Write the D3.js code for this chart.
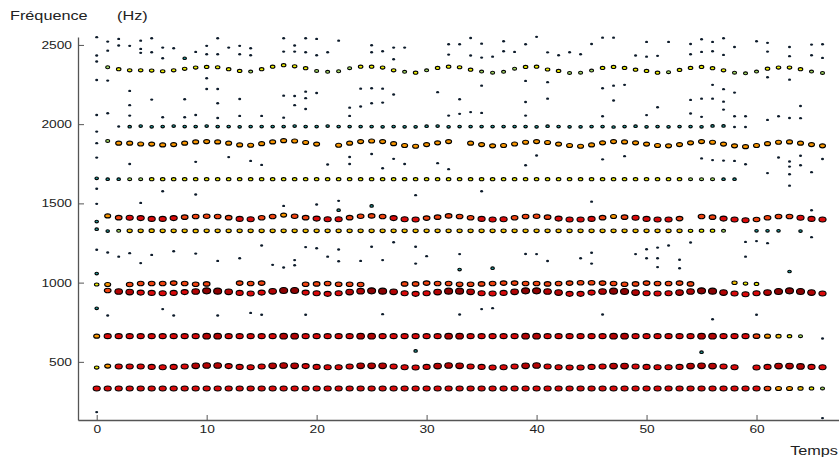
<!DOCTYPE html>
<html><head><meta charset="utf-8">
<script src="https://cdn.jsdelivr.net/npm/d3@7"></script>
<style>html,body{margin:0;padding:0;background:#fff;} svg{display:block;}</style>
</head><body>
<svg id="chart" width="839" height="457"></svg>
<script>
// ---- data (frequency in Hz per time frame t = 0..66, null = no partial) ----
const xTicks = [0, 10, 20, 30, 40, 50, 60];
const yTicks = [500, 1000, 1500, 2000, 2500];
const yLabel = "Fréquence";
const yUnit = "(Hz)";
const xLabel = "Temps";

const trackA = [null,2359,2347,2340,2340,2338,2334,2340,2349,2357,2361,2359,2347,2336,2332,2347,2363,2372,2365,2353,2336,2330,2334,2353,2363,2363,2357,2340,2330,2325,2340,2355,2363,2359,2344,2332,2325,2330,2350,2361,2363,2345,2336,2323,2325,2338,2355,2361,2355,2344,2336,2325,2328,2342,2355,2361,2353,2340,2325,2321,2332,2350,2357,2357,2347,2332,2323];
const levelA = [null,2,3,3,3,3,3,3,3,3,3,3,3,3,2,3,3,3,3,3,2,2,2,2,3,3,3,3,2,3,2,3,3,3,3,2,2,2,2,3,3,3,3,2,2,2,3,3,3,3,3,3,2,3,3,3,3,3,2,2,2,3,3,3,3,2,2];

const trackB = [null,null,1985,1984,1988,1983,1985,1988,1985,1985,1988,1985,1985,1983,1985,1985,1985,1985,1988,1985,1985,1988,1985,1985,1985,1985,1983,1985,1983,1983,1987,1988,1983,1985,1985,1985,1985,1985,1985,1985,1983,1987,1985,1983,1983,1985,1985,1982,1985,1987,1983,1985,1983,1985,1985,1983,1989,1989,1982,1982,null,null,null,null,null,null,null];
const levelB = [null,null,0,1,1,1,1,1,1,1,1,1,1,1,1,1,1,1,1,1,1,1,1,1,1,1,1,1,1,1,1,1,1,1,1,1,1,1,1,1,1,1,1,1,1,1,1,1,1,1,1,1,1,1,1,1,1,1,0,0,null,null,null,null,null,null,null];

const trackC = [1880,1894,1880,1880,1875,1874,1869,1871,1880,1888,1890,1888,1880,1869,1867,1877,1888,1896,1894,1884,1874,null,1867,1880,1890,1894,1890,1877,1865,1861,1871,1882,1890,null,1880,1871,1863,1865,1875,1886,1890,1884,1874,1865,1861,1869,1882,1890,1888,1882,1874,1865,1863,1871,1882,1890,1886,1874,1863,1858,1865,1877,1886,1888,1880,1871,1863];
const levelC = [0,2,5,5,5,5,5,5,5,5,5,5,5,5,5,5,5,5,5,5,5,null,5,5,5,5,5,5,5,5,5,5,5,null,5,5,5,5,5,5,5,5,5,5,5,5,5,5,5,5,5,5,5,5,5,5,5,5,5,5,5,5,5,5,5,5,5];

const trackD = [1658,1653,1653,1653,1653,1653,1653,1653,1653,1653,1653,1653,1653,1653,1653,1653,1653,1653,1653,1653,1653,1653,1653,1653,1653,1653,1653,1653,1653,1653,1653,1653,1653,1653,1653,1653,1653,1653,1653,1653,1653,1653,1653,1653,1653,1653,1653,1653,1653,1653,1653,1653,1653,1653,1653,1653,1653,1653,1653,null,null,null,null,null,null,null,null];
const levelD = [1,1,1,2,2,3,3,3,3,3,3,3,3,3,3,3,3,3,3,3,3,3,3,3,3,3,3,3,3,3,3,3,3,3,3,3,3,3,3,3,3,3,3,3,3,3,3,3,3,3,3,3,3,3,2,2,2,1,1,null,null,null,null,null,null,null,null];

const trackE = [null,1421,1410,1409,1407,1402,1402,1407,1413,1417,1419,1417,1410,1402,1400,1409,1417,1426,1419,1410,1404,1400,1400,1410,1419,1421,1417,1407,1400,1398,1407,1413,1421,1417,1409,1402,1398,1400,1409,1417,1419,1413,1404,1398,1398,1402,1410,1417,1413,1409,1402,1398,1398,1404,null,1417,1413,1404,1398,1394,1398,1409,1417,1417,1409,1402,1398];
const levelE = [null,5,6,7,7,7,7,7,6,6,6,6,6,7,7,6,6,5,6,6,7,7,7,6,6,6,6,7,7,7,6,6,6,6,6,7,7,7,6,6,6,6,7,7,7,7,6,5,6,7,7,7,7,6,null,6,6,7,7,7,6,6,6,6,7,7,7];

const trackF = [1337,1325,1327,1327,1327,1328,1327,1327,1327,1326,1327,1327,1327,1327,1327,1327,1327,1327,1327,1327,1327,1327,1327,1327,1327,1327,1327,1327,1327,1327,1327,1327,1327,1327,1327,1327,1327,1327,1327,1327,1327,1327,1327,1327,1327,1327,1327,1327,1327,1327,1327,1327,1327,1327,1327,1328,1328,1327,null,null,1327,1327,1327,null,1325,null,null];
const levelF = [1,1,2,4,4,4,4,4,4,4,4,4,4,4,4,4,4,4,4,4,4,4,4,4,4,4,4,4,4,4,4,4,4,4,4,4,4,4,4,4,4,4,4,4,4,4,4,4,4,4,4,4,4,4,3,3,3,2,null,null,1,1,1,null,1,null,null];

const trackG = [988,988,null,988,994,994,994,997,994,990,992,null,null,997,994,997,null,null,null,990,992,994,990,990,988,null,null,null,992,992,997,994,994,990,990,992,994,997,997,994,994,992,994,997,999,999,997,994,990,992,997,994,994,997,992,null,null,null,999,994,992,null,null,null,null,null,null];
const levelG = [3,5,null,6,6,6,6,6,6,6,6,null,null,6,6,6,null,null,null,6,6,6,6,6,6,null,null,null,6,6,6,6,6,6,6,6,6,6,6,6,6,6,6,6,6,6,6,6,6,6,6,6,6,6,6,null,null,null,4,3,3,null,null,null,null,null,null];

const trackH = [null,950,944,940,937,935,933,935,940,944,948,946,942,935,931,937,945,950,950,937,933,929,933,940,946,948,946,942,933,929,933,940,946,946,942,933,931,935,942,948,948,944,937,929,929,937,944,946,944,937,933,931,933,937,944,948,946,937,931,927,933,937,944,948,944,937,931];
const levelH = [null,6,8,8,7,7,7,7,7,8,9,9,8,7,7,7,8,9,9,7,7,7,7,8,8,9,9,8,7,7,7,8,9,9,8,7,7,7,8,9,9,8,8,7,7,7,8,9,9,8,7,7,7,8,8,9,9,8,7,7,7,8,9,9,9,8,7];

const trackI = [662,662,662,662,662,662,662,662,662,662,662,662,662,662,662,662,662,662,662,662,662,662,662,662,662,662,662,662,662,662,662,662,662,662,662,662,662,662,662,662,662,662,662,662,662,662,662,662,662,662,662,662,662,662,662,662,662,662,662,662,662,662,662,662,662,null,null];
const levelI = [5,7,7,7,7,7,7,7,7,7,8,8,7,7,7,7,7,8,8,7,7,7,7,7,8,8,7,7,7,7,7,7,8,8,7,7,7,7,7,8,8,7,7,7,7,7,7,8,8,7,7,7,7,7,7,8,8,7,7,7,6,5,4,3,2,null,null];

const trackJ = [464,473,471,471,471,468,466,468,471,475,477,477,473,468,466,471,475,477,475,473,468,466,466,471,475,475,475,471,466,464,468,473,477,475,471,468,464,466,471,475,477,471,466,464,464,468,471,473,473,471,468,466,466,468,473,475,473,471,466,null,464,468,473,473,471,468,466];
const levelJ = [3,5,7,7,7,7,7,7,7,8,8,8,7,7,7,7,8,8,8,7,7,7,7,7,8,8,8,7,7,7,7,8,8,8,7,7,7,7,7,8,8,7,7,7,7,7,7,8,8,7,7,7,7,7,8,8,8,7,7,null,7,7,8,8,8,7,7];

const trackK = [332,332,332,332,332,332,332,332,332,332,332,332,332,332,332,332,332,332,332,332,332,332,332,332,332,332,332,332,332,332,332,332,332,332,332,332,332,332,332,332,332,332,332,332,332,332,332,332,332,332,332,332,332,332,332,332,332,332,332,332,332,332,332,332,332,332,332];
const levelK = [7,7,7,7,7,7,7,7,7,7,7,7,7,7,7,7,7,7,7,7,7,7,7,7,7,7,7,7,7,7,7,7,7,7,7,7,7,7,7,7,7,7,7,7,7,7,7,7,7,7,7,7,7,7,7,7,7,7,7,7,7,6,5,5,4,3,2];

// isolated weak peaks: [t, frequency Hz, level]
const scatterDots = [
[0,2549,0],[0,2433,0],[0,2395,0],[0,2279,0],[0,2058,0],[0,1953,0],[0,1789,0],[0,1592,0],[0,1497,0],[0,1385,1],[0,1207,0],[0,1057,1],[0,838,1],[0,183,0],
[1,2521,0],[1,2464,0],[1,2275,0],[1,2069,0],[1,1190,0],[1,792,0],
[2,2538,0],[2,2496,0],[2,1164,0],
[3,2494,0],[3,2210,0],[3,2120,0],[3,2054,0],[3,1749,0],[3,1186,0],
[4,2527,0],[4,2475,0],[4,2450,0],[4,1503,0],[4,1123,0],
[5,2542,0],[5,2454,0],[5,2155,0],[5,1175,0],
[6,2483,0],[6,2416,0],[6,2044,0],[6,1577,0],[6,833,0],
[7,2479,0],[7,1198,0],[7,792,0],
[8,2416,1],[8,2157,0],[8,2044,0],
[9,2456,0],[9,2058,0],[9,1762,0],[9,1556,0],[9,1183,0],
[10,2494,0],[10,2441,0],[10,2290,0],[10,2222,0],
[11,2542,0],[11,2441,0],[11,2222,0],[11,2132,0],[11,2039,0],[11,1137,0],[11,792,0],
[12,2483,0],[12,1792,0],
[13,2494,0],[13,2441,0],[13,2159,0],[13,2052,0],[13,1154,0],
[14,2479,0],[14,2435,0],[14,1768,0],[14,809,0],
[15,2052,0],[15,1743,0],[15,1234,0],[15,797,0],
[16,1112,0],
[17,2542,0],[17,2458,0],[17,2180,0],[17,2041,0],[17,1484,0],[17,1095,0],
[18,2496,0],[18,2458,0],[18,2178,0],[18,2120,0],[18,1142,0],[18,1110,0],
[19,2542,0],[19,2454,0],[19,2205,0],[19,2164,0],[19,2096,0],[19,1224,0],[19,797,0],
[20,2538,0],[20,2435,0],[20,2197,0],[20,1493,0],[20,1217,0],
[21,2454,0],[21,1745,0],[21,1164,0],
[22,2527,0],[22,1516,0],[22,1457,1],[22,1209,0],[22,1135,0],
[23,2104,0],[23,2052,0],[23,1793,0],[23,1749,0],
[24,2224,0],[24,2111,0],[24,1137,0],
[25,2498,0],[25,2454,0],[25,2227,0],[25,2132,0],[25,1812,0],[25,1484,1],[25,1226,0],
[26,2460,0],[26,2224,0],[26,2136,0],[26,1722,0],[26,1142,0],[26,801,0],
[27,2483,0],[27,2410,0],[27,2187,0],[27,1781,0],[27,1255,0],
[28,2483,0],[28,1749,0],
[29,1552,0],[29,1226,0],[29,1120,0],[29,569,1],
[30,1167,0],
[31,2202,0],[31,1754,0],
[32,2504,0],[32,2439,0],[32,2054,0],[32,1716,0],
[33,2504,0],[33,2157,0],[33,2065,0],[33,1180,0],[33,1082,1],[33,799,0],
[34,2544,0],[34,2433,0],[34,2076,0],
[35,2508,0],[35,2420,0],[35,2243,0],[35,2071,0],[35,1577,0],[35,833,0],
[36,2426,0],[36,1091,1],[36,839,0],
[37,2523,0],[37,2460,0],
[38,2456,0],
[39,2504,0],[39,2273,0],[39,2140,0],[39,2054,0],[39,1741,0],[39,1181,0],
[40,2551,0],[40,1802,0],[40,1180,0],
[41,2453,0],[41,2265,0],[41,2161,0],[41,1136,0],
[42,2435,0],
[43,2454,0],
[44,2441,0],[44,1154,0],
[45,2506,0],[45,1511,0],[45,1188,0],[45,1120,0],
[46,2546,0],[46,2227,0],[46,2050,0],[46,1778,0],[46,799,0],
[47,2546,0],[47,2243,0],[47,2149,0],
[48,2248,0],[48,1798,0],
[49,2433,0],[49,1180,0],
[50,2519,0],[50,2426,0],[50,2057,0],[50,1211,0],[50,1154,0],
[51,2431,0],[51,2107,0],[51,1221,0],[51,1154,0],[51,1098,0],
[52,2519,0],[52,1234,0],
[53,1144,0],[53,1091,0],
[54,2506,0],[54,2441,0],[54,2153,0],[54,2067,0],[54,1253,0],
[55,2536,0],[55,2456,0],[55,2161,0],[55,2046,0],[55,1784,0],[55,561,1],
[56,2519,0],[56,2460,0],[56,2248,0],[56,2161,0],[56,1773,0],[56,769,0],
[57,2542,0],[57,2437,0],[57,2221,0],[57,2142,0],[57,2092,0],[57,1770,0],
[58,2487,0],[58,2199,0],[58,2050,0],[58,1768,0],
[59,2050,0],[59,1747,0],[59,1257,0],[59,1164,0],
[60,2523,0],[60,1262,0],[60,797,0],
[61,2513,0],[61,2458,0],[61,2296,0],[61,2027,0],[61,1691,0],[61,1249,0],
[62,2050,0],[62,1790,0],
[63,2487,0],[63,2429,0],[63,2281,0],[63,2039,0],[63,1764,0],[63,1732,0],[63,1684,0],[63,1612,0],[63,1070,1],
[64,2115,0],[64,2038,0],[64,1801,0],[64,1741,0],
[65,2502,0],[65,2435,0],[65,1697,0],[65,1457,0],[65,1287,0],
[66,2504,0],[66,2418,0],[66,1780,0],[66,647,0],[66,145,0]
];

// ---- rendering ----
const svg = d3.select("#chart");
const x = d3.scaleLinear().domain([-1.7, 67.5]).range([78, 839]);
const y = d3.scaleLinear().domain([133, 2550]).range([420, 37]);

// amplitude level -> colour / size (jet-like, reversed)
const levelColor = d3.scaleOrdinal().domain(d3.range(10))
  .range(["#0d1b2a","#239a9a","#a4dc64","#f0f000","#f5c000","#fa9600","#f24410","#dc0a0a","#b40404","#8c0202"]);
const levelRx = d3.scaleOrdinal().domain(d3.range(10)).range([1.5,1.75,2.0,2.25,2.6,3.0,3.35,3.55,3.8,4.0]);
const levelRy = d3.scaleOrdinal().domain(d3.range(10)).range([1.2,1.3,1.45,1.55,1.8,2.0,2.25,2.5,2.8,3.0]);

const tracks = [
  [trackK, levelK], [trackJ, levelJ], [trackI, levelI], [trackH, levelH], [trackG, levelG],
  [trackF, levelF], [trackE, levelE], [trackD, levelD], [trackC, levelC], [trackB, levelB], [trackA, levelA]
];
const points = [];
scatterDots.forEach(d => points.push({t: d[0], f: d[1], lv: d[2]}));
tracks.forEach(([fs, lvs]) => fs.forEach((f, t) => { if (f !== null) points.push({t, f, lv: lvs[t]}); }));

const textScale = 1.25;
const fontFam = "Liberation Sans, Arial, Helvetica, sans-serif";

// axes
const gy = svg.append("g").attr("transform", "translate(78,0)")
  .call(d3.axisLeft(y).tickValues(yTicks).tickSize(-6).tickSizeOuter(0).tickPadding(6).tickFormat(d3.format("d")));
const gx = svg.append("g").attr("transform", "translate(0,420)")
  .call(d3.axisBottom(x).tickValues(xTicks).tickSize(-5).tickSizeOuter(0).tickPadding(5).tickFormat(d3.format("d")));
[gy, gx].forEach(g => {
  g.select(".domain").attr("stroke", "#555").attr("stroke-width", 1.3);
  g.selectAll(".tick line").attr("stroke", "#555").attr("stroke-width", 1);
  g.selectAll(".tick text").attr("fill", "#222").attr("font-size", 11).attr("font-family", fontFam);
});
gy.selectAll(".tick text").attr("x", 0).attr("transform", `translate(-6,0) scale(${textScale},1)`);
gx.selectAll(".tick text").attr("transform", `scale(${textScale},1)`);

// markers
svg.append("g").selectAll("ellipse").data(points).join("ellipse")
  .attr("cx", d => x(d.t)).attr("cy", d => y(d.f))
  .attr("rx", d => levelRx(d.lv)).attr("ry", d => levelRy(d.lv))
  .attr("fill", d => levelColor(d.lv))
  .attr("stroke", d => d.lv === 0 ? "none" : "#000")
  .attr("stroke-width", 1.1);

// labels
function label(txt, px, py, anchor) {
  svg.append("text").text(txt)
    .attr("transform", `translate(${px},${py}) scale(${textScale},1)`)
    .attr("text-anchor", anchor).attr("font-size", 13).attr("font-family", fontFam).attr("fill", "#222");
}
label(yLabel, 10, 20, "start");
label(yUnit, 117, 20, "start");
label(xLabel, 838, 455, "end");
</script>
</body></html>
